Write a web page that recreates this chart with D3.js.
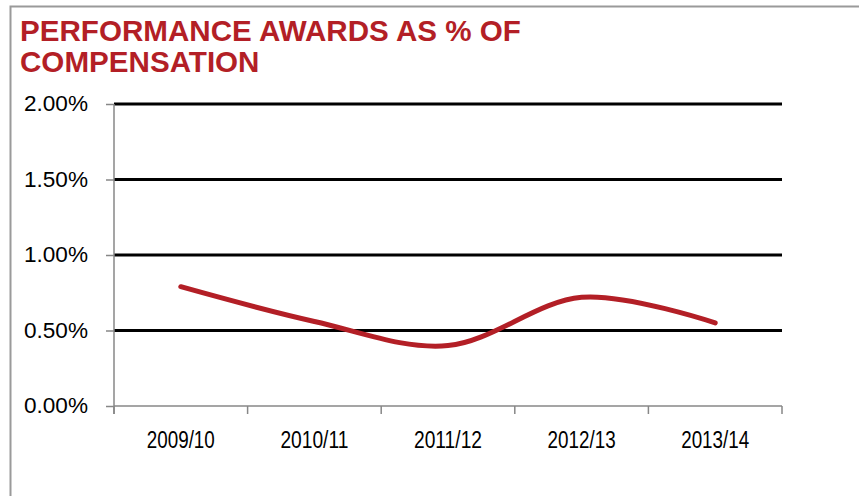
<!DOCTYPE html>
<html>
<head>
<meta charset="utf-8">
<script src="https://cdn.jsdelivr.net/npm/d3@7"></script>
<style>
  body { margin: 0; background: #fff; }
  svg { display: block; }
</style>
</head>
<body>
<div id="chart"></div>
<script>
// data
const years = ['2009/10', '2010/11', '2011/12', '2012/13', '2013/14'];
const awardPct = [0.79, 0.56, 0.40, 0.72, 0.55];
const yTicks = [0, 0.5, 1, 1.5, 2];
const titleLines = ['PERFORMANCE AWARDS AS % OF', 'COMPENSATION'];

const cfg = {
  width: 859,
  height: 496,
  left: 114,
  right: 782,
  top: 104,
  bottom: 406,
  red: '#B31F26',
  axisColor: '#878787'
};

const svg = d3.select('#chart').append('svg')
  .attr('width', cfg.width)
  .attr('height', cfg.height);

svg.append('rect').attr('width', cfg.width).attr('height', cfg.height).attr('fill', '#fff');

// frame (only top and left edge show)
svg.append('path')
  .attr('d', `M10.5,${cfg.height} L10.5,6.5 L${cfg.width},6.5`)
  .attr('fill', 'none').attr('stroke', '#9a9a9a').attr('stroke-width', 2);

// title
svg.append('g').selectAll('text').data(titleLines).enter()
  .append('text')
  .attr('x', 20)
  .attr('y', (d, i) => 41 + i * 31)
  .attr('font-family', '"Liberation Sans", Arial, sans-serif')
  .attr('font-weight', 'bold')
  .attr('font-size', 29.6)
  .attr('fill', cfg.red)
  .text(d => d);

const x = d3.scaleBand().domain(years).range([cfg.left, cfg.right]).padding(0);
const y = d3.scaleLinear().domain([0, 2]).range([cfg.bottom, cfg.top]);

// gridlines
svg.append('g').selectAll('line').data(yTicks.filter(d => d > 0)).enter()
  .append('line')
  .attr('x1', cfg.left).attr('x2', cfg.right)
  .attr('y1', d => y(d)).attr('y2', d => y(d))
  .attr('stroke', '#000').attr('stroke-width', 3);

// y axis
const yAxis = svg.append('g')
  .attr('transform', `translate(${cfg.left},0)`)
  .call(d3.axisLeft(y).tickValues(yTicks).tickSize(8).tickPadding(18)
    .tickFormat(d => d.toFixed(2) + '%'));
yAxis.select('.domain').attr('stroke', cfg.axisColor).attr('stroke-width', 1.5)
  .attr('d', `M0,${cfg.top}V${cfg.bottom + 8}`);
yAxis.selectAll('.tick line').attr('stroke', cfg.axisColor).attr('stroke-width', 1.5);
yAxis.selectAll('.tick text')
  .attr('font-family', '"Liberation Sans", Arial, sans-serif')
  .attr('font-size', 21.5)
  .attr('textLength', 64)
  .attr('lengthAdjust', 'spacingAndGlyphs')
  .attr('fill', '#000');

// x axis
const xAxis = svg.append('g')
  .attr('transform', `translate(0,${cfg.bottom})`)
  .call(d3.axisBottom(x).tickSize(0).tickPadding(26));
xAxis.select('.domain').attr('stroke', cfg.axisColor).attr('stroke-width', 1.5)
  .attr('d', `M${cfg.left},0H${cfg.right}`);
xAxis.selectAll('.tick text')
  .attr('font-family', '"Liberation Sans", Arial, sans-serif')
  .attr('font-size', 23)
  .attr('textLength', 68)
  .attr('lengthAdjust', 'spacingAndGlyphs')
  .attr('fill', '#000');
const bounds = years.map(d => x(d)).concat([cfg.right]);
xAxis.selectAll('.bound').data(bounds).enter()
  .append('line').attr('class', 'bound')
  .attr('x1', d => d).attr('x2', d => d)
  .attr('y1', 0).attr('y2', 8)
  .attr('stroke', cfg.axisColor).attr('stroke-width', 1.5);

// smoothed line
const line = d3.line()
  .x((d, i) => x(years[i]) + x.bandwidth() / 2)
  .y(d => y(d))
  .curve(d3.curveCardinal.tension(0));
svg.append('path')
  .attr('d', line(awardPct))
  .attr('fill', 'none')
  .attr('stroke', cfg.red)
  .attr('stroke-width', 5)
  .attr('stroke-linecap', 'round');
</script>
</body>
</html>
